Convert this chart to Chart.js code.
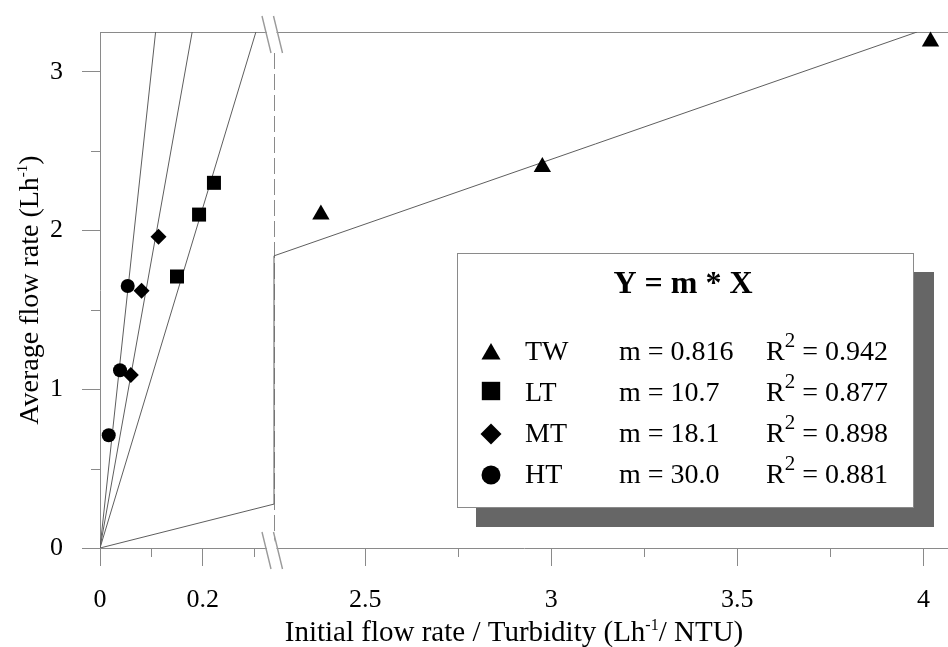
<!DOCTYPE html>
<html>
<head>
<meta charset="utf-8">
<title>Average flow rate vs initial flow rate / turbidity</title>
<script src="https://cdn.jsdelivr.net/npm/chart.js@4.4.1/dist/chart.umd.min.js"></script>
<style>
  html, body { margin: 0; padding: 0; background: #fff; }
  #wrap { width: 948px; height: 647px; position: relative; }
</style>
</head>
<body>
<div id="wrap"><canvas id="chart"></canvas></div>
<script>
// ---- data ----
const seriesNames = ['TW', 'LT', 'MT', 'HT'];
const slopes      = [0.816, 10.7, 18.1, 30.0];   // fitted m in Y = m * X
const rSquared    = [0.942, 0.877, 0.898, 0.881];

const twX = [2.381, 2.976, 4.019];
const twY = [2.10, 2.40, 3.19];
const ltX = [0.150, 0.193, 0.222];
const ltY = [1.71, 2.10, 2.30];
const mtX = [0.060, 0.081, 0.114];
const mtY = [1.09, 1.62, 1.96];
const htX = [0.017, 0.039, 0.054];
const htY = [0.71, 1.12, 1.65];

const xMajorTicks = [0, 0.2, 2.5, 3, 3.5, 4];
const xTickLabels = ['0', '0.2', '2.5', '3', '3.5', '4'];
const xMinorTicks = [0.1, 0.3, 2.75, 3.25, 3.75];
const yMajorTicks = [0, 1, 2, 3];
const yTickLabels = ['0', '1', '2', '3'];
const yMinorTicks = [0.5, 1.5, 2.5];

// ---- axis ranges (x axis is broken between BREAK_LO and BREAK_HI) ----
const X_MIN = 0, X_MAX = 4.066;
const BREAK_LO = 0.339, BREAK_HI = 2.255;
const Y_MIN = 0, Y_MAX = 3.25;
const LEFT_FRACTION = 174 / 848;   // share of the plot width given to the low range

const FONT = '"Liberation Serif", "Times New Roman", serif';
const AXIS_GRAY = '#8a8a8a';
const FIT_GRAY = '#5e5e5e';

// Linear scale with a gap: [min, BREAK_LO] and [BREAK_HI, max] share the width.
class BrokenLinearScale extends Chart.LinearScale {
  getPixelForValue(value) {
    if (value === null || value === undefined || isNaN(value)) return NaN;
    let d;
    if (value <= BREAK_LO) {
      d = (value - this.min) / (BREAK_LO - this.min) * LEFT_FRACTION;
    } else if (value >= BREAK_HI) {
      d = LEFT_FRACTION + (value - BREAK_HI) / (this.max - BREAK_HI) * (1 - LEFT_FRACTION);
    } else {
      d = LEFT_FRACTION;
    }
    return this.getPixelForDecimal(d);
  }
  getValueForPixel(pixel) {
    const d = this.getDecimalForPixel(pixel);
    if (d <= LEFT_FRACTION) return this.min + d / LEFT_FRACTION * (BREAK_LO - this.min);
    return BREAK_HI + (d - LEFT_FRACTION) / (1 - LEFT_FRACTION) * (this.max - BREAK_HI);
  }
}
BrokenLinearScale.id = 'brokenLinear';
BrokenLinearScale.defaults = Chart.LinearScale.defaults;
Chart.register(BrokenLinearScale);

// ---- helpers ----
const near = (a, b) => Math.abs(a - b) < 1e-9;
const isMajor = (majors, v) => majors.some(m => near(m, v));
const labelFor = (majors, labels, v) => {
  const i = majors.findIndex(m => near(m, v));
  return i >= 0 ? labels[i] : '';
};
const toPoints = (xs, ys) => xs.map((x, i) => ({ x, y: ys[i] }));

// Y = m * X from the origin up to the top of the plot, bridging the axis gap.
function fitPoints(m) {
  const xTop = Y_MAX / m;
  const pts = [{ x: 0, y: 0 }];
  if (xTop > BREAK_LO) {
    pts.push({ x: BREAK_LO, y: m * BREAK_LO }, { x: BREAK_HI, y: m * BREAK_HI });
  }
  pts.push({ x: xTop, y: Y_MAX });
  return pts;
}

const markerStyles = { TW: ['triangle', 10], LT: ['rect', 9.9], MT: ['rectRot', 8], HT: ['circle', 7] };
const legendMarker = { TW: ['triangle', 11], LT: ['rect', 13], MT: ['rectRot', 10.5], HT: ['circle', 9.5] };
const seriesPoints = { TW: toPoints(twX, twY), LT: toPoints(ltX, ltY), MT: toPoints(mtX, mtY), HT: toPoints(htX, htY) };

const markerDatasets = seriesNames.map(name => ({
  label: name,
  data: seriesPoints[name],
  pointStyle: markerStyles[name][0],
  pointRadius: markerStyles[name][1],
  pointBackgroundColor: '#000',
  pointBorderColor: '#000',
  pointBorderWidth: 0,
  showLine: false,
  clip: false
}));

const fitDatasets = seriesNames.map((name, i) => ({
  label: name + ' fit',
  data: fitPoints(slopes[i]),
  showLine: true,
  borderColor: FIT_GRAY,
  borderWidth: 1,
  pointRadius: 0,
  fill: false,
  tension: 0
}));

// ---- rich text (superscripts) ----
function drawRich(ctx, parts, x, y, size, align, supScale, supRaise) {
  const main = `${size}px ${FONT}`;
  const sup = `${Math.round(size * supScale)}px ${FONT}`;
  let total = 0;
  parts.forEach(p => { ctx.font = p.sup ? sup : main; total += ctx.measureText(p.text).width; });
  let cx = align === 'center' ? x - total / 2 : x;
  ctx.textAlign = 'left';
  parts.forEach(p => {
    ctx.font = p.sup ? sup : main;
    ctx.fillText(p.text, cx, p.sup ? y - supRaise : y);
    cx += ctx.measureText(p.text).width;
  });
}

// ---- plugins ----
const breakPlugin = {
  id: 'axisBreak',
  beforeDatasetsDraw(chart) {
    const { ctx, chartArea: a, scales: { x } } = chart;
    const bx = x.getPixelForValue(BREAK_LO);
    ctx.save();
    ctx.strokeStyle = AXIS_GRAY;
    ctx.lineWidth = 1;
    // top frame line
    ctx.beginPath();
    ctx.moveTo(a.left, a.top + 0.5);
    ctx.lineTo(a.right, a.top + 0.5);
    ctx.stroke();
    // dashed divider where the axis is broken
    ctx.setLineDash([16, 5]);
    ctx.beginPath();
    ctx.moveTo(bx + 0.5, a.top);
    ctx.lineTo(bx + 0.5, a.bottom);
    ctx.stroke();
    ctx.restore();
  },
  afterDraw(chart) {
    const { ctx, chartArea: a, scales: { x } } = chart;
    const bx = x.getPixelForValue(BREAK_LO);
    const mark = (y) => {
      const p1 = [bx - 12, y - 16], p2 = [bx - 3, y + 21];
      const q1 = [bx - 0.5, y - 16], q2 = [bx + 8.5, y + 21];
      ctx.fillStyle = '#fff';
      ctx.beginPath();
      ctx.moveTo(p1[0] + 1, p1[1]); ctx.lineTo(p2[0] + 1, p2[1]);
      ctx.lineTo(q2[0] - 1, q2[1]); ctx.lineTo(q1[0] - 1, q1[1]);
      ctx.closePath();
      ctx.fill();
      ctx.strokeStyle = '#9a9a9a';
      ctx.lineWidth = 1.4;
      ctx.beginPath();
      ctx.moveTo(p1[0], p1[1]); ctx.lineTo(p2[0], p2[1]);
      ctx.moveTo(q1[0], q1[1]); ctx.lineTo(q2[0], q2[1]);
      ctx.stroke();
    };
    ctx.save();
    mark(a.top);
    mark(a.bottom);
    ctx.restore();
  }
};

const titlePlugin = {
  id: 'axisTitles',
  afterDraw(chart) {
    const { ctx, chartArea: a } = chart;
    ctx.save();
    ctx.fillStyle = '#000';
    ctx.textBaseline = 'alphabetic';
    // x title
    drawRich(ctx, [
      { text: 'Initial flow rate / Turbidity (Lh' },
      { text: '-1', sup: true },
      { text: '/ NTU)' }
    ], (a.left + a.right) / 2 - 10, 641, 29, 'center', 0.55, 11);
    // y title
    ctx.translate(38, (a.top + a.bottom) / 2);
    ctx.rotate(-Math.PI / 2);
    drawRich(ctx, [
      { text: 'Average flow rate (Lh' },
      { text: '-1', sup: true },
      { text: ')' }
    ], 0, 0, 28, 'center', 0.55, 11);
    ctx.restore();
  }
};

const legendPlugin = {
  id: 'fitLegend',
  afterDraw(chart) {
    const { ctx } = chart;
    const box = { x: 457, y: 253, w: 456, h: 254 };
    const shadow = 19;
    ctx.save();
    ctx.fillStyle = '#666';
    ctx.fillRect(box.x + shadow, box.y + shadow, box.w + 2, box.h + 1);
    ctx.fillStyle = '#fff';
    ctx.fillRect(box.x, box.y, box.w, box.h);
    ctx.strokeStyle = AXIS_GRAY;
    ctx.lineWidth = 1;
    ctx.strokeRect(box.x + 0.5, box.y + 0.5, box.w, box.h);

    ctx.fillStyle = '#000';
    ctx.textBaseline = 'alphabetic';
    ctx.textAlign = 'center';
    ctx.font = `bold 32px ${FONT}`;
    ctx.fillText('Y = m * X', box.x + 226, box.y + 40);

    const markerDy = { TW: -6, LT: -10, MT: -8, HT: -8 };
    seriesNames.forEach((name, i) => {
      const base = box.y + 107 + i * 41;
      const [style, r] = legendMarker[name];
      ctx.fillStyle = '#000';
      Chart.helpers.drawPoint(ctx, { pointStyle: style, radius: r, rotation: 0, borderWidth: 0 },
        box.x + 34, base + markerDy[name]);
      ctx.textAlign = 'left';
      ctx.font = `28px ${FONT}`;
      ctx.fillText(name, box.x + 68, base);
      ctx.fillText('m = ' + slopes[i].toPrecision(3), box.x + 162, base);
      drawRich(ctx, [
        { text: 'R' },
        { text: '2', sup: true },
        { text: ' = ' + rSquared[i].toFixed(3) }
      ], box.x + 309, base, 28, 'left', 0.75, 13);
    });
    ctx.restore();
  }
};

// ---- chart ----
const tickFont = { family: FONT, size: 26 };

new Chart(document.getElementById('chart'), {
  type: 'scatter',
  data: { datasets: [...markerDatasets, ...fitDatasets] },
  options: {
    responsive: true,
    maintainAspectRatio: false,
    animation: false,
    events: [],
    layout: { autoPadding: false, padding: { top: 32, left: 0, right: 0, bottom: 0 } },
    plugins: { legend: { display: false }, tooltip: { enabled: false } },
    scales: {
      x: {
        type: 'brokenLinear',
        min: X_MIN,
        max: X_MAX,
        bounds: 'data',
        afterBuildTicks: s => {
          s.ticks = xMajorTicks.concat(xMinorTicks).sort((a, b) => a - b).map(v => ({ value: v }));
        },
        afterFit: s => { s.height = 99; s.paddingLeft = 0; s.paddingRight = 0; },
        ticks: {
          autoSkip: false, maxRotation: 0, minRotation: 0, padding: 19,
          color: '#000', font: tickFont,
          callback: v => labelFor(xMajorTicks, xTickLabels, v)
        },
        grid: {
          drawOnChartArea: false, drawTicks: true, tickLength: 18, tickWidth: 1,
          tickColor: c => (c.tick && isMajor(xMajorTicks, c.tick.value)) ? AXIS_GRAY : 'rgba(0,0,0,0)'
        },
        border: { display: true, color: AXIS_GRAY, width: 1 },
        title: { display: false }
      },
      y: {
        type: 'linear',
        min: Y_MIN,
        max: Y_MAX,
        bounds: 'data',
        afterBuildTicks: s => {
          s.ticks = yMajorTicks.concat(yMinorTicks).sort((a, b) => a - b).map(v => ({ value: v }));
        },
        afterFit: s => { s.width = 100; s.paddingTop = 0; s.paddingBottom = 0; },
        ticks: {
          autoSkip: false, padding: 19, color: '#000', font: tickFont,
          callback: v => labelFor(yMajorTicks, yTickLabels, v)
        },
        grid: {
          drawOnChartArea: false, drawTicks: true, tickLength: 18, tickWidth: 1,
          tickColor: c => (c.tick && isMajor(yMajorTicks, c.tick.value)) ? AXIS_GRAY : 'rgba(0,0,0,0)'
        },
        border: { display: true, color: AXIS_GRAY, width: 1 },
        title: { display: false }
      }
    }
  },
  plugins: [
    breakPlugin,
    {
      // short minor tick marks on both axes
      id: 'minorTicks',
      afterDraw(chart) {
        const { ctx, chartArea: a, scales: { x, y } } = chart;
        ctx.save();
        ctx.strokeStyle = AXIS_GRAY;
        ctx.lineWidth = 1;
        ctx.beginPath();
        xMinorTicks.forEach(v => {
          const px = Math.round(x.getPixelForValue(v)) + 0.5;
          ctx.moveTo(px, a.bottom); ctx.lineTo(px, a.bottom + 9);
        });
        yMinorTicks.forEach(v => {
          const py = Math.round(y.getPixelForValue(v)) + 0.5;
          ctx.moveTo(a.left, py); ctx.lineTo(a.left - 9, py);
        });
        ctx.stroke();
        ctx.restore();
      }
    },
    titlePlugin,
    legendPlugin
  ]
});
</script>
</body>
</html>
